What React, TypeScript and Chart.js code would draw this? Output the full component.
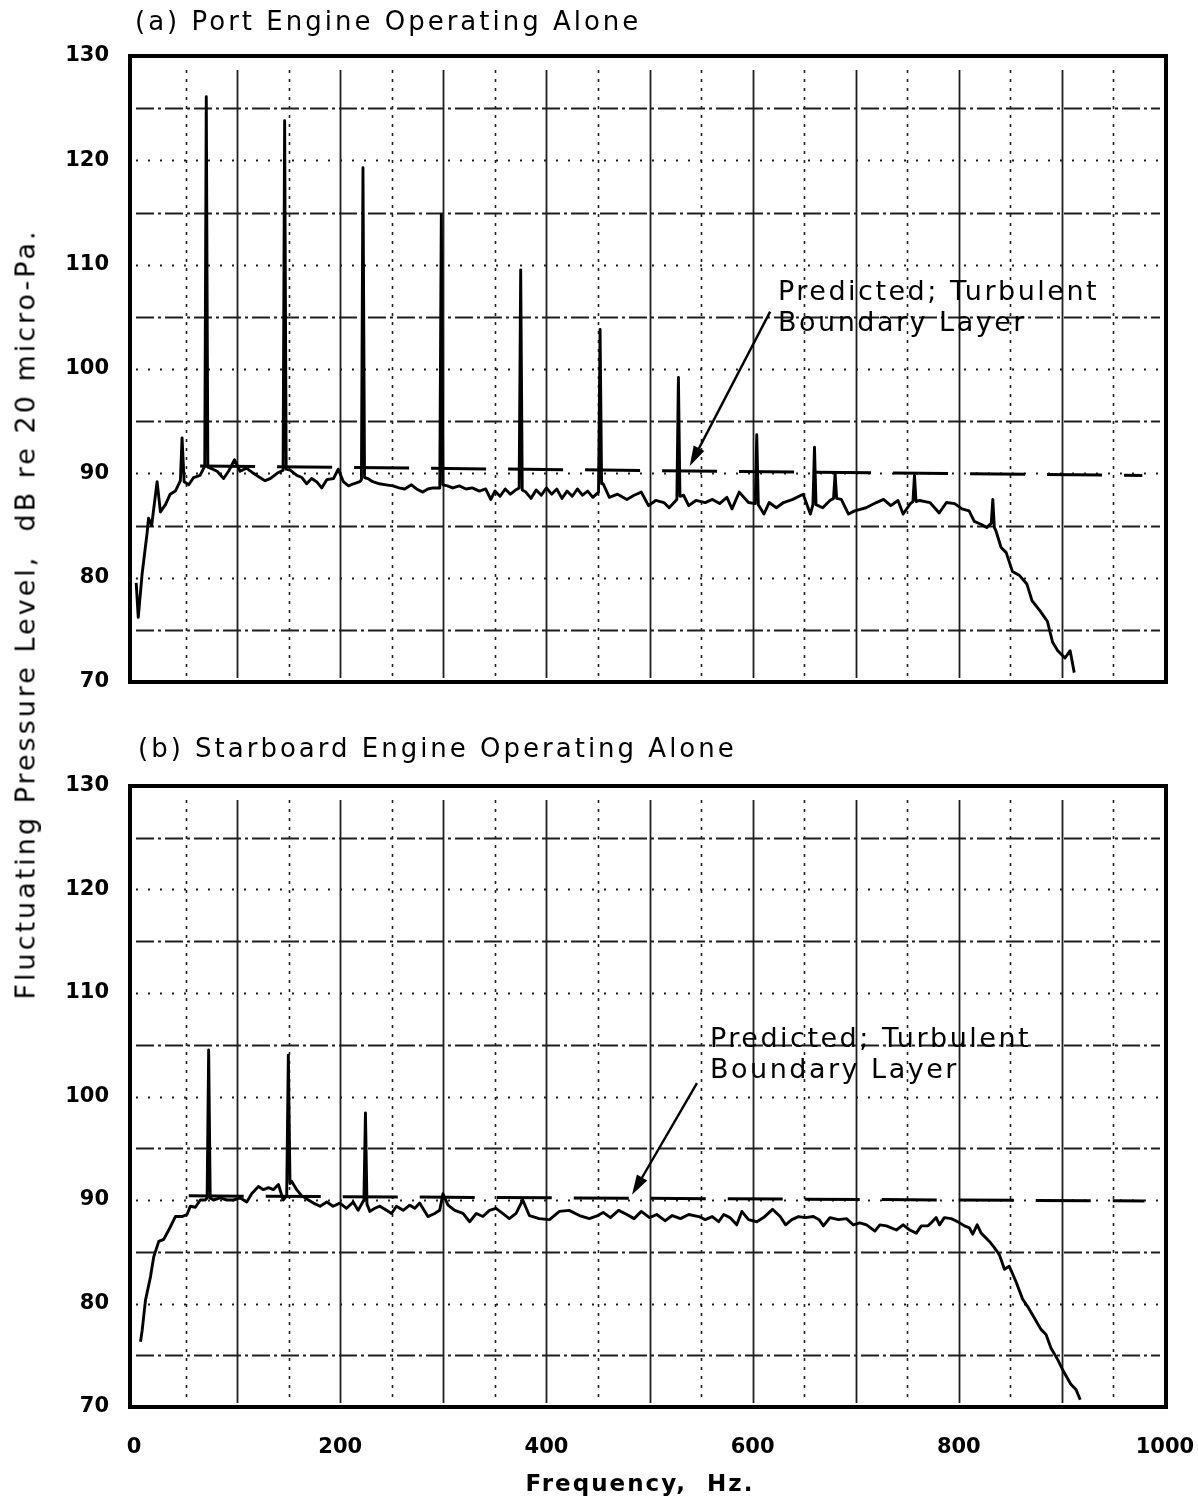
import React, { useEffect, useRef } from "react";
import { Chart, registerables } from "chart.js";

Chart.register(...registerables);

// ---------------- data ----------------
// (a) Port engine operating alone – measured spectrum
const portFreq = [
  2, 4, 7.8, 12.6, 14, 17, 22.3, 25.5, 30.4, 35, 40, 44.9, 46.5, 48.5, 53, 57.7, 64, 68.5, 70, 71.5,
  74, 80.5, 86.8, 91.6, 97.4, 102.8, 109, 115.8, 122, 127, 132, 138.7, 144.5, 146, 147.5, 151.4, 157.8,
  162.7, 167.4, 172.2, 177, 182, 187, 193.4, 198, 203, 208, 212.8, 219, 220.5, 222, 223.5, 226.7, 231.5,
  238, 244.4, 251, 257, 262.5, 269, 274, 280, 285, 290, 296.5, 298, 299.5, 304, 309, 315.5, 322, 328,
  335, 341, 346, 350, 355, 360, 365, 370, 373.5, 375, 376.5, 380, 385, 390, 395, 400, 405, 410, 415,
  420, 425, 430, 435, 440, 445, 450.5, 452, 453.5, 455, 461, 469, 478, 485, 492, 499, 506, 514, 519,
  526.5, 528, 529.5, 533, 538, 545, 554, 561, 568, 575, 580, 587, 596, 602.5, 604, 605.5, 611, 616, 623,
  630, 639, 649, 656, 658.5, 660, 661.5, 668, 675, 678.5, 680, 681.5, 686, 693, 699, 710, 720, 727, 734,
  741, 746, 753, 755.5, 757, 758.5, 762, 772, 781, 788, 796, 803, 810, 815, 822, 827, 831.5, 833, 834.5,
  836, 841, 846, 852, 859, 866, 871, 879, 886, 891, 896, 903, 908, 912,
];
const portLevel = [
  79.5, 76.2, 80.4, 84.3, 85.7, 85.0, 89.2, 86.3, 87.0, 88.0, 88.3, 89.3, 93.4, 89.2, 88.9, 89.6, 89.8, 90.7, 126.1, 90.6,
  90.5, 90.2, 89.5, 90.2, 91.3, 90.2, 90.5, 90.0, 89.6, 89.3, 89.5, 90.0, 90.3, 123.8, 90.4, 90.3, 89.8,
  89.6, 89.0, 89.5, 89.2, 88.6, 89.4, 89.5, 90.4, 89.2, 88.8, 89.0, 89.2, 89.4, 119.3, 89.6, 89.5, 89.2,
  89.0, 88.9, 88.8, 88.6, 88.5, 88.9, 88.5, 88.2, 88.5, 88.6, 88.6, 114.8, 88.9, 88.8, 88.6, 88.8, 88.5, 88.6,
  88.3, 88.5, 87.5, 88.3, 87.8, 88.5, 88.0, 88.4, 88.6, 109.5, 88.4, 88.2, 87.6, 88.4, 87.9, 88.6, 88.0, 88.5, 87.6,
  88.3, 87.8, 88.5, 87.9, 88.3, 87.7, 88.2, 103.8, 89.0, 89.0, 87.7, 88.0, 87.5, 87.9, 88.2, 86.9, 87.4, 87.2, 86.7,
  87.5, 99.2, 87.8, 87.9, 86.9, 87.4, 87.2, 87.5, 87.1, 87.7, 86.6, 88.2, 87.2, 87.1, 93.7, 87.0, 86.1, 87.2, 86.7,
  87.2, 87.5, 88.0, 86.1, 87.0, 92.5, 87.0, 86.7, 87.4, 87.6, 90.0, 87.6, 87.5, 86.1, 86.4, 86.7, 87.2, 87.5, 86.9,
  87.4, 86.1, 87.1, 87.3, 89.8, 87.3, 87.4, 87.2, 86.2, 87.2, 87.1, 86.6, 86.4, 85.4, 85.1, 84.8, 85.2, 87.5, 84.8,
  84.5, 82.9, 82.4, 80.6, 80.2, 79.4, 77.8, 76.8, 75.8, 73.8, 73.0, 72.3, 73.0, 70.9,
];

// (b) Starboard engine operating alone – measured spectrum
const starFreq = [
  6.2, 7.8, 11, 15.9, 19, 23.9, 28.7, 33.6, 40, 46.5, 51.3, 54.5, 59.4, 64.2, 69, 70.8, 72.3, 73.8, 77,
  83.5, 90, 96.3, 103, 109.3, 114, 120.6, 125.5, 130.3, 135, 140, 144.6, 148, 149.6, 151.2, 152.9, 157.7,
  162.6, 169, 174, 180.4, 186.9, 193, 199.6, 206, 212.5, 217.3, 222.9, 224.4, 225.9, 228.7, 233.5, 238.4,
  244.8, 249.7, 254.5, 261, 267.4, 272.3, 277, 285, 291.6, 296.4, 299.6, 304.5, 311, 319, 325.5, 332,
  338.3, 344.7, 351, 357.5, 364, 370.5, 377, 383.4, 393, 403, 412.6, 422, 432, 441.6, 449.7, 455, 462,
  470, 478, 485, 492, 500, 507, 515, 522, 530, 538, 547.8, 554, 560.8, 567, 572, 578, 584.6, 589.5, 596,
  604, 610.6, 619.3, 626.7, 632, 638, 644.5, 651, 659, 664.5, 668.7, 675, 683.3, 691, 697.6, 704, 710.5,
  718.6, 723.4, 729.8, 739.5, 746, 752.4, 758.8, 763.6, 770, 773.3, 778, 781.3, 786, 792.6, 799, 805.5,
  810.3, 813.5, 817.8, 821.7, 829.7, 834.5, 839.4, 844.3, 849, 855.5, 862, 866.8, 873.3, 879.7, 884.6,
  889.4, 895.8, 902.3, 908.7, 913.6, 917.8,
];
const starLevel = [
  76.3, 77.4, 80.3, 82.6, 84.5, 86.0, 86.2, 87.1, 88.4, 88.4, 88.6, 89.4, 89.3, 90.0, 90.0, 90.2, 104.5, 90.2, 90.0,
  90.2, 90.0, 90.0, 90.2, 89.8, 90.6, 91.3, 91.0, 91.2, 91.0, 91.5, 90.0, 90.4, 104.0, 91.6, 91.8, 91.0,
  90.4, 90.0, 89.7, 89.4, 89.8, 89.4, 89.7, 89.2, 89.8, 89.0, 90.0, 98.4, 89.6, 88.9, 89.2, 89.4,
  89.0, 88.7, 89.4, 89.0, 89.5, 89.2, 89.7, 88.4, 88.7, 89.0, 90.6, 89.5, 89.0, 88.7, 87.9, 88.7,
  88.4, 89.0, 89.2, 88.7, 88.2, 88.7, 90.0, 88.5, 88.2, 88.1, 88.9, 89.0, 88.5, 88.2, 88.5, 88.8, 88.3,
  89.0, 88.6, 88.2, 88.9, 88.3, 88.6, 88.0, 88.5, 88.2, 88.6, 88.4, 88.1, 88.4, 87.9, 88.6, 88.3, 87.6, 88.9, 88.1,
  87.9, 88.3, 89.1, 88.4, 87.6, 88.1, 88.4, 88.3, 88.4, 88.1, 87.5, 88.3, 88.1, 88.2, 87.6, 87.8, 87.6,
  87.0, 87.6, 87.5, 87.1, 87.6, 87.1, 86.8, 87.5, 87.5, 87.8, 88.3, 87.6, 88.3, 88.2, 87.9, 87.5,
  87.3, 86.7, 87.6, 86.8, 86.0, 85.4, 84.7, 83.3, 83.6, 82.1, 80.4, 79.7, 78.6, 77.5, 77.0,
  75.7, 74.6, 73.3, 72.2, 71.7, 70.7,
];

// Predicted turbulent boundary layer level (dashed line)
const portPredFreq = [64, 978];
const portPredLevel = [90.7, 89.8];
const starPredFreq = [53, 980];
const starPredLevel = [90.4, 89.9];

// Axes / grid
const xTickValues = [0, 200, 400, 600, 800, 1000];
const yTickValues = [70, 80, 90, 100, 110, 120, 130];
const gridFreqSolid = [100, 200, 300, 400, 500, 600, 700, 800, 900];
const gridFreqDotted = [50, 150, 250, 350, 450, 550, 650, 750, 850, 950];
const gridLevelDashDot = [75, 85, 95, 105, 115, 125];
const gridLevelDotted = [80, 90, 100, 110, 120];

// Annotation arrow (data coordinates: tail -> head)
const portArrow = [[617, 105.5], [539, 90.7]];
const starArrow = [[546, 101.3], [483, 90.5]];

const FONT = '"DejaVu Sans", "Liberation Sans", sans-serif';

type PanelOpts = {
  title: string;
  titleX: number;
  titleY: number;
  noteX: number;
  noteY: number;
  arrow: number[][];
  showXTicks: boolean;
  xTitle?: string;
  xTitleX?: number;
  xTitleY?: number;
};

function makePaperPlugin(o: PanelOpts) {
  return {
    id: "paper",
    beforeDatasetsDraw(chart: any) {
      const { ctx, chartArea: a, scales } = chart;
      const xs = scales.x;
      const ys = scales.y;
      ctx.save();
      ctx.strokeStyle = "#1e1e1e";
      const v = (val: number, dash: number[], w: number) => {
        const px = Math.round(xs.getPixelForValue(val)) + 0.5;
        ctx.setLineDash(dash);
        ctx.lineWidth = w;
        ctx.beginPath();
        ctx.moveTo(px, a.top + 14);
        ctx.lineTo(px, a.bottom - 4);
        ctx.stroke();
      };
      const h = (val: number, dash: number[], w: number) => {
        const py = Math.round(ys.getPixelForValue(val)) + 0.5;
        ctx.setLineDash(dash);
        ctx.lineWidth = w;
        ctx.beginPath();
        ctx.moveTo(a.left + 6, py);
        ctx.lineTo(a.right - 6, py);
        ctx.stroke();
      };
      gridFreqSolid.forEach((f) => v(f, [], 1.8));
      gridFreqDotted.forEach((f) => v(f, [3, 6], 1.6));
      gridLevelDashDot.forEach((l) => h(l, [18, 4, 3, 4], 1.8));
      gridLevelDotted.forEach((l) => h(l, [2, 10], 2));
      ctx.restore();
    },
    afterDraw(chart: any) {
      const { ctx, chartArea: a, scales } = chart;
      const xs = scales.x;
      const ys = scales.y;
      ctx.save();
      // heavy frame
      ctx.setLineDash([]);
      ctx.strokeStyle = "#000";
      ctx.lineWidth = 4;
      ctx.strokeRect(a.left, a.top, a.right - a.left, a.bottom - a.top);

      ctx.fillStyle = "#000";
      // panel title
      (ctx as any).letterSpacing = "3px";
      ctx.font = `26px ${FONT}`;
      ctx.textAlign = "left";
      ctx.textBaseline = "middle";
      ctx.fillText(o.title, o.titleX, o.titleY);

      // note
      (ctx as any).letterSpacing = "2.5px";
      ctx.font = `27px ${FONT}`;
      ctx.textBaseline = "alphabetic";
      ctx.fillText("Predicted; Turbulent", o.noteX, o.noteY);
      ctx.fillText("Boundary Layer", o.noteX, o.noteY + 31);

      // arrow
      const x1 = xs.getPixelForValue(o.arrow[0][0]);
      const y1 = ys.getPixelForValue(o.arrow[0][1]);
      const x2 = xs.getPixelForValue(o.arrow[1][0]);
      const y2 = ys.getPixelForValue(o.arrow[1][1]);
      const ang = Math.atan2(y2 - y1, x2 - x1);
      const L = 20;
      const W = 6;
      ctx.lineWidth = 2.4;
      ctx.beginPath();
      ctx.moveTo(x1, y1);
      ctx.lineTo(x2 - Math.cos(ang) * L * 0.8, y2 - Math.sin(ang) * L * 0.8);
      ctx.stroke();
      ctx.beginPath();
      ctx.moveTo(x2, y2);
      ctx.lineTo(
        x2 - Math.cos(ang) * L - Math.sin(ang) * W,
        y2 - Math.sin(ang) * L + Math.cos(ang) * W
      );
      ctx.lineTo(
        x2 - Math.cos(ang) * L + Math.sin(ang) * W,
        y2 - Math.sin(ang) * L - Math.cos(ang) * W
      );
      ctx.closePath();
      ctx.fill();

      // x-axis title
      if (o.xTitle) {
        (ctx as any).letterSpacing = "2px";
        ctx.font = `bold 23px ${FONT}`;
        ctx.textAlign = "center";
        ctx.textBaseline = "middle";
        ctx.fillText(o.xTitle, o.xTitleX as number, o.xTitleY as number);
      }
      ctx.restore();
    },
  };
}

function pts(xs: number[], ys: number[]) {
  return xs.map((x, i) => ({ x, y: ys[i] }));
}

function buildChart(
  canvas: HTMLCanvasElement,
  freq: number[],
  level: number[],
  predF: number[],
  predL: number[],
  topPad: number,
  bottomAxisHeight: number,
  o: PanelOpts
) {
  return new Chart(canvas, {
    type: "scatter",
    data: {
      datasets: [
        {
          data: pts(predF, predL),
          showLine: true,
          borderColor: "#000",
          borderWidth: 3,
          borderDash: [55, 22],
          pointRadius: 0,
          tension: 0,
        },
        {
          data: pts(freq, level),
          showLine: true,
          borderColor: "#000",
          borderWidth: 2.9,
          pointRadius: 0,
          tension: 0,
          borderJoinStyle: "round",
        },
      ],
    } as any,
    options: {
      animation: false,
      responsive: false,
      maintainAspectRatio: false,
      layout: { padding: { top: topPad, left: 0, right: 32, bottom: 0 } },
      plugins: {
        legend: { display: false },
        tooltip: { enabled: false },
        title: { display: false },
      },
      scales: {
        x: {
          type: "linear",
          min: -4,
          max: 1001,
          grid: { display: false, drawTicks: false },
          border: { display: false },
          afterBuildTicks: (s: any) => {
            s.ticks = xTickValues.map((value) => ({ value }));
          },
          afterFit: (s: any) => {
            s.height = bottomAxisHeight;
            s.paddingLeft = 0;
            s.paddingRight = 0;
          },
          ticks: {
            display: o.showXTicks,
            padding: 28,
            color: "#000",
            maxRotation: 0,
            autoSkip: false,
            callback: (v: any) => String(v),
            font: { family: FONT, size: 21, weight: "bold" },
          },
        },
        y: {
          type: "linear",
          min: 70,
          max: 130,
          grid: { display: false, drawTicks: false },
          border: { display: false },
          afterBuildTicks: (s: any) => {
            s.ticks = yTickValues.map((value) => ({ value }));
          },
          afterFit: (s: any) => {
            s.width = 130;
            s.paddingTop = 0;
            s.paddingBottom = 0;
          },
          ticks: {
            padding: 21,
            color: "#000",
            autoSkip: false,
            callback: (v: any) => String(v),
            font: { family: FONT, size: 21, weight: "bold" },
          },
        },
      },
    } as any,
    plugins: [makePaperPlugin(o)],
  });
}

export default function App() {
  const topRef = useRef<HTMLCanvasElement | null>(null);
  const botRef = useRef<HTMLCanvasElement | null>(null);

  useEffect(() => {
    if (!topRef.current || !botRef.current) return;
    const a = buildChart(topRef.current, portFreq, portLevel, portPredFreq, portPredLevel, 56, 720 - 682, {
      title: "(a) Port Engine Operating Alone",
      titleX: 135,
      titleY: 23,
      noteX: 778,
      noteY: 300,
      arrow: portArrow,
      showXTicks: false,
    });
    // bottom canvas starts at page y = 720
    const b = buildChart(botRef.current, starFreq, starLevel, starPredFreq, starPredLevel, 66, 778 - 687, {
      title: "(b) Starboard Engine Operating Alone",
      titleX: 138,
      titleY: 30,
      noteX: 710,
      noteY: 327,
      arrow: starArrow,
      showXTicks: true,
      xTitle: "Frequency,  Hz.",
      xTitleX: 640,
      xTitleY: 765,
    });
    return () => {
      a.destroy();
      b.destroy();
    };
  }, []);

  return (
    <div
      style={{
        position: "absolute",
        left: 0,
        top: 0,
        width: 1198,
        height: 1498,
        background: "#fff",
        overflow: "hidden",
      }}
    >
      <canvas
        ref={topRef}
        width={1198}
        height={720}
        style={{ position: "absolute", left: 0, top: 0, width: 1198, height: 720 }}
      />
      <canvas
        ref={botRef}
        width={1198}
        height={778}
        style={{ position: "absolute", left: 0, top: 720, width: 1198, height: 778 }}
      />
      <div
        style={{
          position: "absolute",
          left: 25,
          top: 614,
          transform: "translate(-50%, -50%) rotate(-90deg)",
          whiteSpace: "nowrap",
          font: `27px ${FONT}`,
          letterSpacing: "3px",
          color: "#000",
        }}
      >
        Fluctuating Pressure Level,{"\u00a0\u00a0"}dB re 20 micro-Pa.
      </div>
    </div>
  );
}
